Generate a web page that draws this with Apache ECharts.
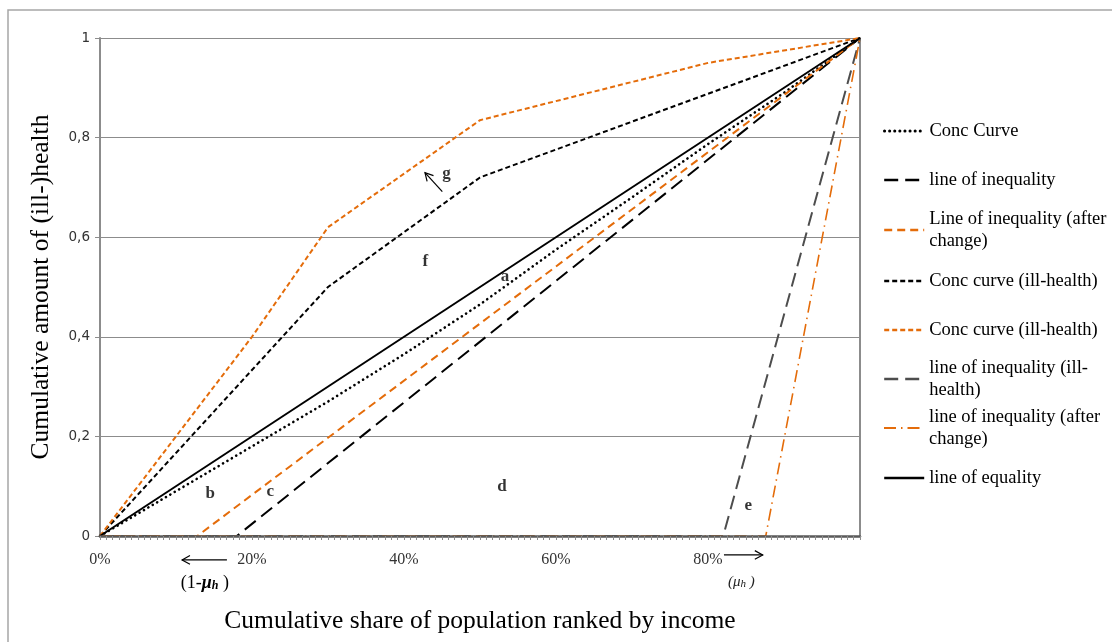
<!DOCTYPE html>
<html>
<head>
<meta charset="utf-8">
<script src="https://cdn.jsdelivr.net/npm/echarts@6/dist/echarts.min.js"></script>
<style>
  html, body { margin: 0; padding: 0; background: #fff; }
  #chart { width: 1112px; height: 642px; }
</style>
</head>
<body>
<div id="chart"></div>
<script>
// [population share, cumulative (ill-)health]
const concCurve = [[0, 0], [0.1, 0.09], [0.2, 0.18], [0.3, 0.27], [0.4, 0.365], [0.5, 0.465], [0.6, 0.575], [0.7, 0.68], [0.8, 0.787], [0.9, 0.89], [1, 1]];
const lineOfInequality = [[0, 0], [0.18, 0], [1, 1]];
const lineOfInequalityAfter = [[0, 0], [0.128, 0], [1, 1]];
const concIllHealth = [[0, 0], [0.3, 0.5], [0.5, 0.72], [1, 1]];
const concIllHealthAfter = [[0, 0], [0.1, 0.2], [0.2, 0.4], [0.3, 0.62], [0.5, 0.835], [0.8, 0.95], [1, 1]];
const lineOfInequalityIll = [[0, 0], [0.82, 0], [1, 1]];
const lineOfInequalityIllAfter = [[0, 0], [0.876, 0], [1, 1]];
const lineOfEquality = [[0, 0], [1, 1]];

const seriesNames = [
  'Conc Curve',
  'line of inequality',
  'Line of inequality (after\nchange)',
  'Conc curve (ill-health)',
  'Conc curve (ill-health) ',
  'line of inequality (ill-\nhealth)',
  'line of inequality (after\nchange)',
  'line of equality'
];
const seriesData = [concCurve, lineOfInequality, lineOfInequalityAfter, concIllHealth,
  concIllHealthAfter, lineOfInequalityIll, lineOfInequalityIllAfter, lineOfEquality];

// area letters, placed in data coordinates
const areaLabels = [[0.533, 0.521, 'a'], [0.145, 0.086, 'b'], [0.224, 0.089, 'c'], [0.529, 0.099, 'd'],
  [0.853, 0.062, 'e'], [0.428, 0.551, 'f'], [0.456, 0.728, 'g']];

const xTicks = ['0%', '20%', '40%', '60%', '80%', ''];
const yTicks = ['0', '0,2', '0,4', '0,6', '0,8', '1'];

const ORANGE = '#E46C0A';
const SERIF = '"Liberation Serif", "Times New Roman", serif';
const lineStyles = [
  { color: '#000', width: 2.6, type: [0.1, 5], cap: 'round' },
  { color: '#000', width: 2, type: [14, 7] },
  { color: ORANGE, width: 2, type: [8, 5] },
  { color: '#000', width: 2, type: [5, 3] },
  { color: ORANGE, width: 2, type: [5, 3] },
  { color: '#4D4D4D', width: 2, type: [14, 7] },
  { color: ORANGE, width: 1.6, type: [12, 5, 1.5, 5] },
  { color: '#000', width: 2, type: 'solid' }
];

const chart = echarts.init(document.getElementById('chart'));

const series = seriesNames.map((name, i) => ({
  name,
  type: 'line',
  data: seriesData[i],
  symbol: 'none',
  lineStyle: lineStyles[i],
  itemStyle: { color: lineStyles[i].color },
  z: 2
}));
series.push({
  type: 'scatter',
  data: areaLabels,
  symbolSize: 1,
  itemStyle: { color: 'transparent' },
  label: {
    show: true, position: 'inside', formatter: p => p.data[2],
    fontFamily: SERIF, fontSize: 17, fontWeight: 'bold', color: '#000'
  },
  silent: true,
  z: 4
});

// one legend per entry so every first line sits on the same 49px rhythm
const legendCenters = [131, 180, 230, 281, 330, 379, 428, 478];
const LH = 22;
const legends = seriesNames.map((name, i) => {
  const twoLines = name.indexOf('\n') >= 0;
  return {
    data: [name],
    left: 883,
    top: legendCenters[i] - (twoLines ? LH * 1.5 : LH / 2),
    orient: 'vertical',
    padding: 0,
    itemWidth: 40,
    itemHeight: 14,
    itemGap: 7,
    selectedMode: false,
    itemStyle: { opacity: 0, borderWidth: 0 },
    lineStyle: { width: lineStyles[i].width + 0.4 },
    textStyle: {
      fontFamily: SERIF, fontSize: 18.5, color: '#000', lineHeight: LH,
      padding: twoLines ? [LH, 0, 0, 0] : 0
    }
  };
});

chart.setOption({
  animation: false,
  grid: { left: 100, right: 252, top: 38, bottom: 106 },
  legend: legends,
  xAxis: {
    type: 'value', min: 0, max: 1, interval: 0.2, z: 5,
    axisLine: { show: true, onZero: false, lineStyle: { color: '#5a5a5a', width: 2.5 } },
    axisTick: { show: true, length: 4, lineStyle: { color: '#8c8c8c' } },
    minorTick: { show: true, splitNumber: 24, length: 4, lineStyle: { color: '#8c8c8c' } },
    splitLine: { show: false },
    axisLabel: {
      formatter: v => xTicks[Math.round(v * 5)],
      fontFamily: SERIF, fontSize: 16, color: '#333', margin: 16
    },
    name: 'Cumulative share of population ranked by income',
    nameLocation: 'middle', nameGap: 72,
    nameTextStyle: { fontFamily: SERIF, fontSize: 25.5, color: '#000' }
  },
  yAxis: [{
    type: 'value', min: 0, max: 1, interval: 0.2,
    axisLine: { show: true, lineStyle: { color: '#8c8c8c', width: 2 } },
    axisTick: { show: true, length: 5, lineStyle: { color: '#8c8c8c' } },
    splitLine: { show: true, lineStyle: { color: '#8c8c8c', width: 1 } },
    axisLabel: {
      formatter: v => yTicks[Math.round(v * 5)],
      fontFamily: '"DejaVu Sans", Verdana, sans-serif', fontSize: 13.5, color: '#333', margin: 10
    },
    name: 'Cumulative amount of (ill-)health',
    nameLocation: 'middle', nameGap: 46,
    nameTextStyle: { fontFamily: SERIF, fontSize: 25.5, color: '#000' }
  }, {
    type: 'value', min: 0, max: 1, position: 'right',
    axisLine: { show: true, lineStyle: { color: '#8c8c8c', width: 2 } },
    axisTick: { show: false }, axisLabel: { show: false }, splitLine: { show: false }
  }],
  series
});

// arrows and mu labels, anchored to data coordinates
function px(p) { return chart.convertToPixel({ gridIndex: 0 }, p); }
function arrow(from, to) {
  const [x0, y0] = px(from), [x1, y1] = px(to);
  const a = Math.atan2(y1 - y0, x1 - x0), L = 9, w = 0.5;
  const st = { stroke: '#000', lineWidth: 1.2, fill: null };
  return [
    { type: 'line', shape: { x1: x0, y1: y0, x2: x1, y2: y1 }, style: st, z: 10 },
    { type: 'polyline', z: 10, style: st, shape: { points: [
      [x1 - L * Math.cos(a - w), y1 - L * Math.sin(a - w)], [x1, y1],
      [x1 - L * Math.cos(a + w), y1 - L * Math.sin(a + w)]] } }
  ];
}
const gArrow = arrow([0.4504, 0.6914], [0.4276, 0.7295]);
const leftArrow = arrow([0.167, -0.048], [0.108, -0.048]);
const rightArrow = arrow([0.821, -0.038], [0.872, -0.038]);
const muLeft = px([0.138, -0.095]);
const muRight = px([0.844, -0.092]);

chart.setOption({
  graphic: [
    { type: 'rect', shape: { x: 8, y: 10, width: 1130, height: 660 },
      style: { fill: null, stroke: '#a6a6a6', lineWidth: 1.5 }, silent: true },
    ...gArrow, ...leftArrow, ...rightArrow,
    { type: 'text', x: muLeft[0], y: muLeft[1], z: 10, style: {
      text: '{n|(1-}{i|μ}{s|h}{n| )}', align: 'center', verticalAlign: 'middle',
      rich: {
        n: { fontFamily: SERIF, fontSize: 18, fill: '#000', verticalAlign: 'bottom' },
        i: { fontFamily: SERIF, fontSize: 18, fontStyle: 'italic', fontWeight: 'bold', fill: '#000', verticalAlign: 'bottom' },
        s: { fontFamily: SERIF, fontSize: 12, fontStyle: 'italic', fontWeight: 'bold', fill: '#000', verticalAlign: 'bottom' }
      } } },
    { type: 'text', x: muRight[0], y: muRight[1], z: 10, style: {
      text: '{n|(μ}{s|h}{n| )}', align: 'center', verticalAlign: 'middle',
      rich: {
        n: { fontFamily: SERIF, fontSize: 15, fontStyle: 'italic', fill: '#222', verticalAlign: 'bottom' },
        s: { fontFamily: SERIF, fontSize: 11, fontStyle: 'italic', fill: '#222', verticalAlign: 'bottom' }
      } } }
  ]
});
</script>
</body>
</html>
